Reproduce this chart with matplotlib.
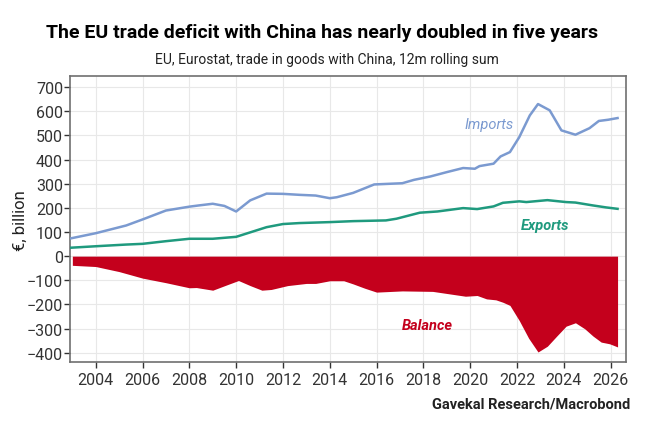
import numpy as np
import matplotlib
matplotlib.use("Agg")
import matplotlib.pyplot as plt
from matplotlib import font_manager

# pick a narrow font if there is one
names = {f.name for f in font_manager.fontManager.ttflist}
narrow = "Liberation Sans Narrow" if "Liberation Sans Narrow" in names else "Roboto"
plt.rcParams['font.family'] = [narrow, 'DejaVu Sans']

# Data (EUR bn, 12m rolling sum)
imp_years = [2002.95, 2004.0, 2005.3, 2006.0, 2007.0, 2008.0, 2008.4, 2009.0, 2009.5, 2010.0,
             2010.6, 2011.3, 2012.0, 2012.7, 2013.4, 2014.0, 2014.3, 2015.0, 2015.9, 2017.1,
             2017.6, 2018.3, 2019.0, 2019.7, 2020.2, 2020.4, 2021.0, 2021.3, 2021.7, 2022.1,
             2022.55, 2022.9, 2023.4, 2023.9, 2024.5, 2025.1, 2025.5, 2025.9, 2026.3]
imports = [74, 95, 127, 152, 189, 205, 210, 217, 208, 185,
           231, 259, 258, 254, 251, 240, 244, 262, 297, 302,
           316, 330, 348, 365, 362, 373, 383, 413, 431, 493,
           583, 630, 604, 521, 503, 530, 560, 565, 572]

exp_years = [2002.95, 2004.0, 2005.3, 2006.0, 2007.0, 2008.0, 2009.0, 2010.0, 2011.3, 2012.0,
             2012.7, 2014.0, 2015.0, 2016.4, 2016.85, 2017.85, 2018.6, 2019.7, 2020.3, 2021.0,
             2021.4, 2022.1, 2022.4, 2023.3, 2024.1, 2024.5, 2025.25, 2025.8, 2026.3]
exports = [35, 41, 48, 51, 62, 72, 72, 80, 120, 133,
           137, 141, 145, 148, 155, 180, 185, 199, 195, 206,
           221, 227, 224, 232, 224, 222, 210, 202, 196]

bal_years = [2003.0, 2004.0, 2005.0, 2006.0, 2007.0, 2008.0, 2008.3, 2009.0, 2009.6, 2010.1,
             2010.6, 2011.1, 2011.5, 2012.2, 2013.0, 2013.4, 2014.0, 2014.6, 2015.0, 2015.5,
             2016.0, 2017.1, 2018.4, 2019.1, 2019.8, 2020.3, 2020.7, 2021.1, 2021.4, 2021.7,
             2022.1, 2022.5, 2022.9, 2023.3, 2023.7, 2024.1, 2024.5, 2024.9, 2025.25, 2025.6,
             2025.96, 2026.3]
balance = [-38, -43, -64, -91, -110, -131, -130, -141, -119, -101,
           -122, -141, -138, -122, -113, -113, -102, -102, -115, -133,
           -149, -144, -146, -156, -166, -163, -177, -181, -191, -204,
           -267, -340, -397, -373, -331, -290, -276, -301, -331, -356,
           -363, -376]

x_ticks = list(range(2004, 2027, 2))
y_ticks = list(range(-400, 701, 100))

col_imp = '#7b9ad0'
col_exp = '#1f9a7e'
col_bal = '#c4001c'

fig = plt.figure(figsize=(6.5, 4.27), dpi=100)
ax = fig.add_axes([0.1077, 0.149, 0.855, 0.670])

ax.fill_between(bal_years, 0, balance, color=col_bal, linewidth=0, zorder=2)
ax.plot(imp_years, imports, color=col_imp, lw=1.8, zorder=3)
ax.plot(exp_years, exports, color=col_exp, lw=1.8, zorder=3)

ax.set_xlim(2002.9, 2026.65)
ax.set_ylim(-440, 745)
ax.set_xticks(x_ticks)
ax.set_yticks(y_ticks)
ax.grid(True, color='#e8e8e8', lw=0.8, zorder=0)
ax.set_axisbelow(True)
for s in ax.spines.values():
    s.set_color('#707070')
    s.set_linewidth(1.2)
ax.tick_params(axis='both', labelsize=11.5, colors='#333333', length=4, width=1, pad=3)
ax.tick_params(axis='y', pad=1)
ax.set_ylabel('€, billion', fontsize=12, color='#222222')
ax.yaxis.set_label_coords(-0.076, 0.5)

ax.text(2020.8, 548, 'Imports', color=col_imp, fontsize=10.5, style='italic',
        ha='center', va='center')
ax.text(2023.2, 130, 'Exports', color=col_exp, fontsize=10.5, style='italic',
        fontweight='bold', ha='center', va='center')
ax.text(2018.15, -285, 'Balance', color=col_bal, fontsize=10.5, style='italic',
        fontweight='bold', ha='center', va='center')

fig.text(0.495, 0.923, 'The EU trade deficit with China has nearly doubled in five years',
         ha='center', va='center', fontsize=14, fontweight='bold', color='black')
fig.text(0.503, 0.859, 'EU, Eurostat, trade in goods with China, 12m rolling sum',
         ha='center', va='center', fontsize=10, color='#222222')
fig.text(0.969, 0.052, 'Gavekal Research/Macrobond', ha='right', va='center',
         fontsize=10.5, fontweight='bold', color='#222222')

fig.savefig('out.png', dpi=100)
